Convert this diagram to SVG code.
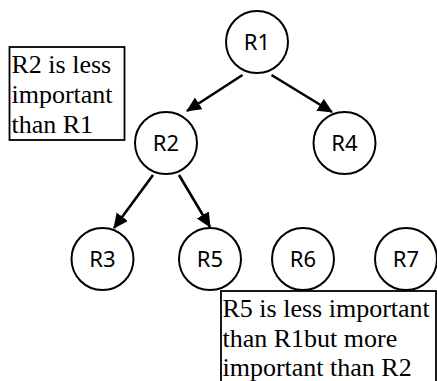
<svg xmlns="http://www.w3.org/2000/svg" width="437" height="381" viewBox="0 0 437 381">
  <style>
    .node circle { fill: #fff; stroke: #000; stroke-width: 2; }
    .node text { font-family: "Noto Sans", "Open Sans", sans-serif; font-size: 22px; text-anchor: middle; fill: #000; }
    .edge { stroke: #000; stroke-width: 2.6; fill: none; marker-end: url(#head); }
    .note rect { fill: #fff; stroke: #000; stroke-width: 1.8; }
    .note text { font-family: "Liberation Serif", "Times New Roman", serif; font-size: 26px; fill: #000; }
  </style>
  <defs>
    <marker id="head" markerUnits="userSpaceOnUse" markerWidth="16" markerHeight="16" refX="14" refY="7" orient="auto">
      <path d="M0,0 L15,7 L0,14 z" fill="#000"/>
    </marker>
  </defs>
  <rect width="437" height="381" fill="#fff"/>

  <g id="connectors">
    <line class="edge" x1="242.5" y1="75" x2="187" y2="111"/>
    <line class="edge" x1="271.5" y1="75" x2="332" y2="112"/>
    <line class="edge" x1="153" y1="175" x2="114" y2="228"/>
    <line class="edge" x1="179" y1="175" x2="210" y2="227"/>
  </g>

  <g id="R1" class="node"><circle cx="257" cy="42" r="31"/><text x="257" y="49.5">R1</text></g>
  <g id="R2" class="node"><circle cx="166" cy="143" r="31"/><text x="166" y="150.5">R2</text></g>
  <g id="R4" class="node"><circle cx="344.5" cy="143" r="31"/><text x="344.5" y="150.5">R4</text></g>
  <g id="R3" class="node"><circle cx="102.5" cy="259" r="31"/><text x="102.5" y="266.5">R3</text></g>
  <g id="R5" class="node"><circle cx="210" cy="259" r="31"/><text x="210" y="266.5">R5</text></g>
  <g id="R6" class="node"><circle cx="303" cy="259" r="31"/><text x="303" y="266.5">R6</text></g>
  <g id="R7" class="node"><circle cx="406" cy="259" r="31"/><text x="406" y="266.5">R7</text></g>

  <g id="note-r2" class="note">
    <rect x="9.5" y="47" width="115" height="93"/>
    <text x="11.5" y="73">R2 is less</text>
    <text x="11.5" y="103">important</text>
    <text x="11.5" y="133">than R1</text>
  </g>

  <g id="note-r5" class="note">
    <rect x="221" y="291" width="215" height="100"/>
    <text x="222.5" y="317">R5 is less important</text>
    <text x="222.5" y="347">than R1but more</text>
    <text x="222.5" y="376">important than R2</text>
  </g>
</svg>
